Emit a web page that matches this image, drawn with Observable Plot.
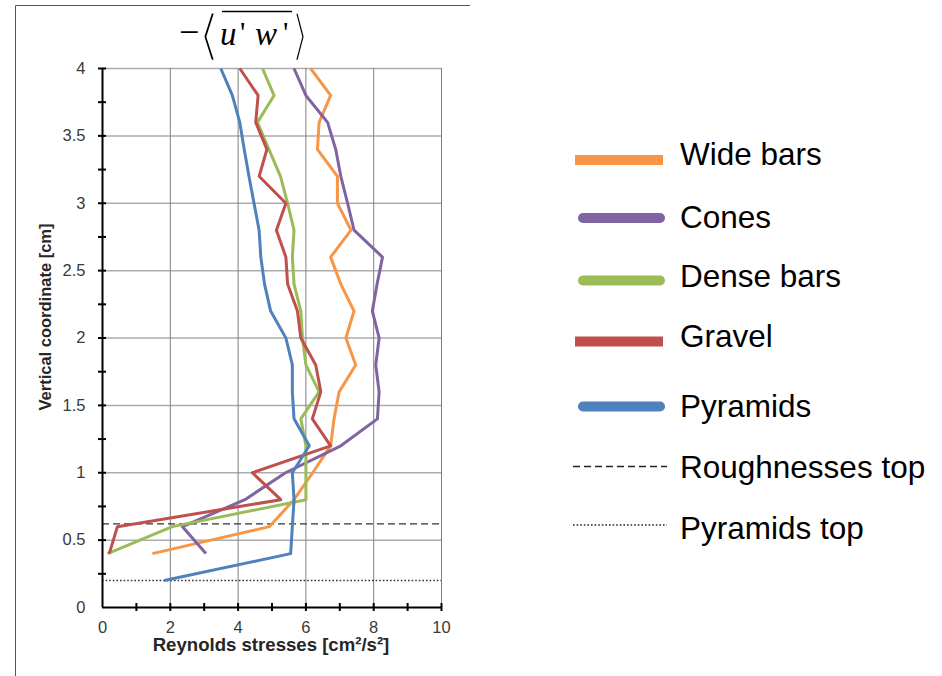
<!DOCTYPE html>
<html>
<head>
<meta charset="utf-8">
<script src="https://cdn.jsdelivr.net/npm/d3@7"></script>
<script src="https://cdn.jsdelivr.net/npm/@observablehq/plot@0.6"></script>
<style>
  html, body { margin: 0; padding: 0; background: #fff; }
  #wrap { position: relative; width: 942px; height: 676px; overflow: hidden; background: #fff; }
  #wrap > svg { position: absolute; left: 0; top: 0; }
  #wrap > svg.chart text { font-size: 16.5px !important; font-family: 'Liberation Sans', Arial, sans-serif !important; fill: #3a3a3a; }
  #overlay { pointer-events: none; }
</style>
</head>
<body>
<div id="wrap"></div>
<script>
// ---- data ----
const heights = [0.2, 0.4, 0.6, 0.8, 1.0, 1.2, 1.4, 1.6, 1.8, 2.0, 2.2, 2.4, 2.6, 2.8, 3.0, 3.2, 3.4, 3.6, 3.8, 4.0];
const seriesNames = ["Wide bars", "Cones", "Dense bars", "Gravel", "Pyramids"];
const seriesColors = ["#F79646", "#8064A2", "#9BBB59", "#C0504D", "#4F81BD"];
const wideBars  = [null, 1.47, 4.92, 5.65, 6.2, 6.73, 6.83, 6.98, 7.47, 7.18, 7.42, 7.03, 6.73, 7.33, 6.93, 6.93, 6.34, 6.39, 6.73, 6.14];
const cones     = [null, 3.05, 2.36, 4.2, 5.4, 7.03, 8.11, 8.16, 8.06, 8.16, 7.96, 8.1, 8.26, 7.42, 7.23, 7.03, 6.88, 6.64, 6.0, 5.65];
const denseBars = [null, 0.15, 2.06, 6.0, 6.0, 6.0, 5.85, 6.39, 6.0, 5.9, 5.85, 5.65, 5.6, 5.65, 5.46, 5.25, 4.91, 4.57, 5.06, 4.72];
const gravel    = [null, 0.2, 0.44, 5.26, 4.42, 6.73, 6.19, 6.44, 6.29, 5.85, 5.75, 5.46, 5.41, 5.13, 5.41, 4.62, 4.85, 4.52, 4.59, 4.05];
const pyramids  = [1.82, 5.55, 5.6, 5.65, 5.6, 6.1, 5.65, 5.6, 5.6, 5.41, 4.96, 4.78, 4.67, 4.62, 4.47, 4.32, 4.18, 4.05, 3.83, 3.49];
const refNames = ["Roughnesses top", "Pyramids top"];
const refLevels = [0.62, 0.2];
const xTicks = [0, 2, 4, 6, 8, 10];
const xMinor = [1, 2, 3, 4, 5, 6, 7, 8, 9, 10];
const yTicks = [0, 0.5, 1, 1.5, 2, 2.5, 3, 3.5, 4];
const yMinor = [0.25, 0.5, 0.75, 1, 1.25, 1.5, 1.75, 2, 2.25, 2.5, 2.75, 3, 3.25, 3.5, 3.75, 4];
const xLabel = "Reynolds stresses [cm²/s²]";
const yLabel = "Vertical coordinate [cm]";

const seriesValues = [wideBars, cones, denseBars, gravel, pyramids];
const rows = [];
seriesNames.forEach((name, i) => {
  seriesValues[i].forEach((v, j) => {
    if (v != null) rows.push({series: name, x: v, y: heights[j]});
  });
});

const chart = Plot.plot({
  width: 942,
  height: 676,
  marginLeft: 102,
  marginRight: 501,
  marginTop: 68,
  marginBottom: 69,
  style: {fontFamily: "'Liberation Sans', Arial, sans-serif", fontSize: "16.5px", color: "#3a3a3a", background: "transparent", overflow: "visible"},
  x: {domain: [0, 10], ticks: xTicks, tickSize: 0, tickPadding: 14, label: null, tickFormat: d => String(d)},
  y: {domain: [0, 4], ticks: yTicks, tickSize: 0, tickPadding: 17, label: null, tickFormat: d => String(d)},
  color: {domain: seriesNames, range: seriesColors},
  marks: [
    Plot.ruleY(yTicks.filter(d => d > 0), {stroke: "#ababab", strokeWidth: 1.5}),
    Plot.ruleX(xTicks.filter(d => d > 0), {stroke: "#7f7f7f", strokeWidth: 1}),
    Plot.ruleY([refLevels[0]], {stroke: "#333", strokeWidth: 1.3, strokeDasharray: "7,4"}),
    Plot.ruleY([refLevels[1]], {stroke: "#333", strokeWidth: 1.6, strokeDasharray: "1.6,2"}),
    Plot.line(rows, {x: "x", y: "y", z: "series", stroke: "series", strokeWidth: 3, strokeLinejoin: "round", strokeLinecap: "butt"}),
    Plot.ruleX([0], {stroke: "#000", strokeWidth: 2}),
    Plot.ruleY([0], {stroke: "#000", strokeWidth: 2}),
    Plot.ruleY(yMinor, {x1: 0, x2: 0, insetLeft: -4, insetRight: -4, stroke: "#000", strokeWidth: 2}),
    Plot.ruleX(xMinor, {y1: 0, y2: 0, insetTop: -4, insetBottom: -4, stroke: "#000", strokeWidth: 2})
  ]
});
chart.classList.add("chart");
const wrap = document.getElementById("wrap");
wrap.appendChild(chart);

// ---- overlay: frame, title, axis labels, legend ----
const NS = "http://www.w3.org/2000/svg";
const ov = document.createElementNS(NS, "svg");
ov.setAttribute("id", "overlay");
ov.setAttribute("width", 942);
ov.setAttribute("height", 676);
wrap.appendChild(ov);
function el(tag, attrs, text) {
  const e = document.createElementNS(NS, tag);
  for (const k in attrs) e.setAttribute(k, attrs[k]);
  if (text != null) e.textContent = text;
  ov.appendChild(e);
  return e;
}
// fit a text glyph into a target box (used for the tall angle brackets);
// a white outline drawn over the fill thins the stretched stroke
function fitGlyph(ch, box, family) {
  const t = el("text", {x: 0, y: 0, "font-family": family, "font-size": 40, fill: "#000",
    stroke: "#fff", "stroke-width": 2.6, "vector-effect": "non-scaling-stroke", "paint-order": "fill stroke"}, ch);
  const b = t.getBBox();
  const sx = box.w / b.width, sy = box.h / b.height;
  t.setAttribute("transform", `translate(${box.x - b.x * sx},${box.y - b.y * sy}) scale(${sx},${sy})`);
  return t;
}
// frame of the figure
el("path", {d: "M15.5,676 V5.5 H470", fill: "none", stroke: "#555", "stroke-width": 1});

// title  −⟨ u'w' ⟩ (with overline)
const serif = "'Liberation Serif', 'Times New Roman', serif";
el("text", {x: 179, y: 44, "font-family": serif, "font-size": 36, fill: "#000"}, "−");
fitGlyph("⟨", {x: 198, y: 3, w: 22, h: 63}, "'DejaVu Sans', sans-serif");
fitGlyph("⟩", {x: 291, y: 3, w: 18, h: 63}, "'DejaVu Sans', sans-serif");
el("text", {x: 220, y: 45, "font-family": serif, "font-size": 33, "font-style": "italic", fill: "#000"}, "u");
el("text", {x: 240, y: 42, "font-family": serif, "font-size": 30, fill: "#000"}, "'");
el("text", {x: 255, y: 45, "font-family": serif, "font-size": 33, "font-style": "italic", fill: "#000"}, "w");
el("text", {x: 283, y: 42, "font-family": serif, "font-size": 30, fill: "#000"}, "'");
el("line", {x1: 222, x2: 292, y1: 11.5, y2: 11.5, stroke: "#000", "stroke-width": 1.5});

// axis labels
const sans = "'Liberation Sans', Arial, sans-serif";
el("text", {x: 271, y: 651, "text-anchor": "middle", "font-family": sans, "font-size": 18.6, "font-weight": "bold", fill: "#262626"}, xLabel);
el("text", {x: 0, y: 0, "text-anchor": "middle", "font-family": sans, "font-size": 16.5, "font-weight": "bold", fill: "#262626",
  transform: "translate(51,317) rotate(-90)"}, yLabel);

// legend
const legSwatchY = [160, 218, 280.5, 341.5, 406.5];
const legTextY = [165, 228, 287, 347, 417];
const caps = ["butt", "round", "round", "butt", "round"];
seriesNames.forEach((name, i) => {
  const r = caps[i] === "round";
  el("line", {x1: r ? 583 : 575, x2: r ? 660 : 663, y1: legSwatchY[i], y2: legSwatchY[i], stroke: seriesColors[i], "stroke-width": 10, "stroke-linecap": caps[i]});
  el("text", {x: 680, y: legTextY[i], "font-family": sans, "font-size": 31.5, fill: "#000"}, name);
});
el("line", {x1: 573, x2: 667, y1: 466.5, y2: 466.5, stroke: "#222", "stroke-width": 1.3, "stroke-dasharray": "7,4"});
el("text", {x: 680, y: 478, "font-family": sans, "font-size": 31.5, fill: "#000"}, refNames[0]);
el("line", {x1: 573, x2: 667, y1: 525, y2: 525, stroke: "#222", "stroke-width": 1.6, "stroke-dasharray": "1.6,2"});
el("text", {x: 680, y: 539, "font-family": sans, "font-size": 31.5, fill: "#000"}, refNames[1]);
</script>
</body>
</html>
